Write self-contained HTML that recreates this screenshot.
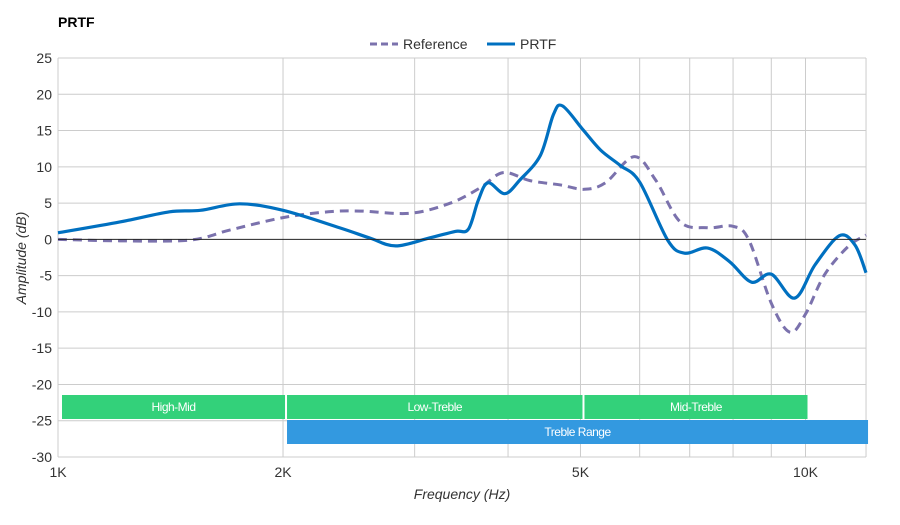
<!DOCTYPE html>
<html><head><meta charset="utf-8"><style>
body{margin:0;background:#fff;font-family:"Liberation Sans",sans-serif}
svg text{font-family:"Liberation Sans",sans-serif}
</style></head><body>
<svg id="chart" width="900" height="520">
<text x="58" y="27" font-size="14" font-weight="bold">PRTF</text>
<g id="grid"></g>
<g id="bands"></g>
<g id="series"></g>
<g id="axes"></g>
<g>
<line x1="370" y1="44" x2="398" y2="44" stroke="#7b72ad" stroke-width="3" stroke-dasharray="7,4"/>
<text x="403" y="49" font-size="14" fill="#333">Reference</text>
<line x1="487" y1="44" x2="515" y2="44" stroke="#0070c0" stroke-width="3"/>
<text x="520" y="49" font-size="14" fill="#333">PRTF</text>
</g>
<text x="462" y="499" font-size="14" font-style="italic" text-anchor="middle" fill="#333">Frequency (Hz)</text>
<text transform="translate(26,258) rotate(-90)" font-size="14" font-style="italic" text-anchor="middle" fill="#333">Amplitude (dB)</text>
</svg>
<script>
const prtfFreq=[1000,1210,1410,1550,1750,2000,2380,2610,2830,3140,3400,3540,3650,3760,3960,4150,4420,4600,4730,5040,5320,5650,6000,6540,6890,7400,7920,8470,9000,9670,10300,11100,11650,12050];
const prtfDb=[0.9,2.4,3.8,4.0,4.9,4.0,1.6,0.2,-0.9,0.2,1.1,1.4,5.4,7.8,6.3,8.2,11.6,17.2,18.4,15.1,12.3,10.2,7.9,-0.1,-1.9,-1.2,-3.1,-5.9,-4.8,-8.1,-3.5,0.5,-0.8,-4.6];
const refFreq=[1000,1210,1500,1700,2000,2300,2540,2960,3350,3670,3940,4280,4700,5060,5400,5900,6300,6800,7400,8000,8400,9000,9530,10000,10600,11400,12050];
const refDb=[0,-0.2,-0.1,1.3,3.0,3.8,3.9,3.6,5.0,7.1,9.2,8.1,7.5,6.9,7.8,11.4,8.2,2.4,1.6,1.8,-0.1,-8.8,-12.8,-10.3,-4.9,-1.0,0.6];
const yTicks=[25,20,15,10,5,0,-5,-10,-15,-20,-25,-30];
const xGrid=[1000,2000,3000,4000,5000,6000,7000,8000,9000,10000];
const xLabels=[[1000,"1K"],[2000,"2K"],[5000,"5K"],[10000,"10K"]];
const bandNames=["High-Mid","Low-Treble","Mid-Treble","Treble Range"];
const bandStart=[1000,2000,5000,2000];
const bandEnd=[2000,5000,10000,12050];
const L=58,R=866,T=58,B=457;
const X=f=>L+Math.log10(f/1000)*747.5;
const Y=d=>T+(25-d)*(B-T)/55;
const NS="http://www.w3.org/2000/svg";
function mk(t,a,p){const e=document.createElementNS(NS,t);for(const k in a)e.setAttribute(k,a[k]);p.appendChild(e);return e;}
const grid=document.getElementById('grid'),axes=document.getElementById('axes'),bands=document.getElementById('bands'),series=document.getElementById('series');
yTicks.forEach(v=>{
 const l=mk('line',{x1:L,x2:R,y1:Y(v),y2:Y(v),stroke:v===0?'#222':'#ccc','stroke-width':1},v===0?axes:grid);
 
 
 const t=mk('text',{x:52,y:Y(v)+5,'text-anchor':'end','font-size':14,fill:'#333'},axes);
 t.textContent=v;
 
 
});
xGrid.concat([12050]).forEach(f=>{
 const l=mk('line',{x1:X(f),x2:X(f),y1:T,y2:B,stroke:'#ccc','stroke-width':1},grid);
 
 
});
xLabels.forEach(([f,s])=>{
 const t=mk('text',{x:X(f),y:477,'text-anchor':'middle','font-size':14,fill:'#333'},axes);
 t.textContent=s;
 
 
});
bandNames.forEach((n,i)=>{
 const row=i===3?1:0;
 const x1=X(bandStart[i])+4, x2=X(bandEnd[i])+2;
 const y=395+row*25;
 const r=mk('rect',{x:x1,y:y,width:x2-x1,height:24,fill:i===3?'#3399e0':'#33d17a'},bands);
 
 
 const t=mk('text',{x:(x1+x2)/2,y:y+16,'text-anchor':'middle','font-size':12,fill:'#fff','letter-spacing':'-0.5'},bands);
 t.textContent=n;
 
 
});
function path(fr,db){
 const p=fr.map((f,i)=>[X(f),Y(db[i])]);
 let d='M'+p[0][0]+','+p[0][1];
 for(let i=0;i<p.length-1;i++){
  const p0=p[i-1]||p[i],p1=p[i],p2=p[i+1],p3=p[i+2]||p2;
  d+=` C${p1[0]+(p2[0]-p0[0])/6},${p1[1]+(p2[1]-p0[1])/6} ${p2[0]-(p3[0]-p1[0])/6},${p2[1]-(p3[1]-p1[1])/6} ${p2[0]},${p2[1]}`;
 }
 return d;
}
const ref=mk('path',{d:path(refFreq,refDb),fill:'none',stroke:'#7b72ad','stroke-width':3,'stroke-dasharray':'9,6'},series);


const pr=mk('path',{d:path(prtfFreq,prtfDb),fill:'none',stroke:'#0070c0','stroke-width':3.2},series);


</script>
</body></html>
